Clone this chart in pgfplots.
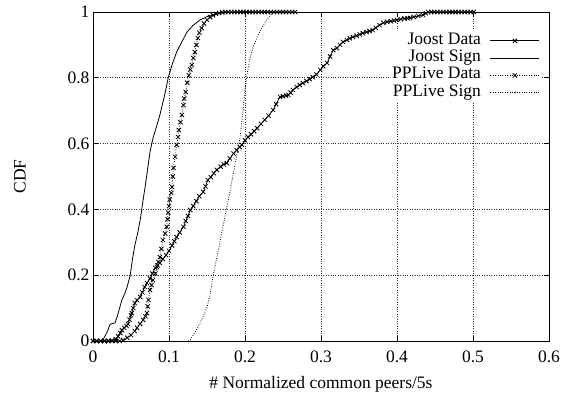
\documentclass[border=0pt]{standalone}
\usepackage{fontspec}
\setmainfont{Liberation Serif}
\usepackage{pgfplots}
\pgfplotsset{compat=1.18}
\newcommand{\bigfont}{\fontsize{17.5}{20}\selectfont}
\begin{document}
\begin{tikzpicture}
\begin{axis}[
  scale only axis,
  width=456pt, height=329pt,
  xmin=0, xmax=0.6, ymin=0, ymax=1,
  xtick={0,0.1,0.2,0.3,0.4,0.5,0.6},
  xticklabels={0,0.1,0.2,0.3,0.4,0.5,0.6},
  ytick={0,0.2,0.4,0.6,0.8,1},
  yticklabels={0,0.2,0.4,0.6,0.8,1},
  tick align=inside,
  major tick length=5pt,
  axis line style={line width=0.8pt},
  every tick/.style={black, line width=0.6pt},
  grid=major,
  major grid style={black!80, line width=0.6pt, dash pattern=on 0.8pt off 1.6pt},
  tick label style={font=\bigfont},
  xticklabel style={yshift=-6pt},
  label style={font=\bigfont},
  xlabel={\# Normalized common peers/5s},
  ylabel={CDF},
  xlabel style={yshift=-7pt},
  ylabel style={at={(axis description cs:-0.16,0.5)}, anchor=center},
  legend plot pos=right,
  legend cell align=right,
  legend image code/.code={\draw[mark repeat=2,mark phase=2,#1] plot coordinates {(0pt,0pt) (24.5pt,0pt) (49pt,0pt)};},
  legend style={font=\bigfont, draw=none, fill=white, at={(1,1)}, anchor=north east,
    xshift=-8pt, yshift=-19pt, inner sep=1pt, row sep=0pt, column sep=9pt,
    nodes={inner sep=0pt, text height=12pt, text depth=5.3pt}},
]
% Joost Data
\addplot[black, line width=0.7pt, mark=x, mark size=3pt, mark options={solid, line width=0.8pt}] coordinates {
(0,0) (0.005,0) (0.01,0) (0.015,0) (0.02,0) (0.025,0.002) (0.03,0.006) (0.033,0.014) (0.036,0.024) (0.038,0.033)
(0.041,0.04) (0.044,0.046) (0.046,0.052) (0.048,0.065) (0.05,0.078) (0.051,0.085) (0.053,0.1) (0.055,0.115)
(0.058,0.124) (0.062,0.134) (0.065,0.148) (0.068,0.164) (0.071,0.176) (0.075,0.19) (0.078,0.205) (0.082,0.222)
(0.085,0.23) (0.088,0.237) (0.092,0.249) (0.096,0.261) (0.1,0.274) (0.104,0.29) (0.107,0.303) (0.11,0.316)
(0.114,0.33) (0.119,0.347) (0.122,0.365) (0.125,0.38) (0.128,0.398) (0.132,0.41) (0.136,0.425) (0.14,0.44)
(0.145,0.453) (0.148,0.47) (0.151,0.489) (0.155,0.498) (0.159,0.51) (0.163,0.52) (0.168,0.53) (0.172,0.537)
(0.176,0.541) (0.18,0.555) (0.185,0.57) (0.189,0.58) (0.193,0.59) (0.196,0.596) (0.2,0.61) (0.204,0.62)
(0.208,0.628) (0.212,0.638) (0.216,0.647) (0.221,0.66) (0.226,0.672) (0.231,0.685) (0.237,0.702) (0.241,0.72)
(0.246,0.742) (0.25,0.744) (0.254,0.746) (0.257,0.748) (0.26,0.755) (0.263,0.763) (0.268,0.772) (0.272,0.778)
(0.276,0.784) (0.281,0.79) (0.285,0.796) (0.289,0.802) (0.294,0.81) (0.299,0.824) (0.303,0.835) (0.308,0.845)
(0.312,0.865) (0.316,0.884) (0.321,0.89) (0.325,0.9) (0.329,0.909) (0.334,0.915) (0.338,0.92) (0.342,0.924)
(0.347,0.928) (0.351,0.932) (0.355,0.936) (0.36,0.939) (0.364,0.942) (0.368,0.945) (0.372,0.952) (0.377,0.96)
(0.382,0.967) (0.387,0.97) (0.392,0.972) (0.396,0.974) (0.4,0.976) (0.405,0.978) (0.41,0.98) (0.414,0.981)
(0.417,0.982) (0.422,0.985) (0.428,0.988) (0.434,0.991) (0.438,0.996) (0.441,1) (0.445,1) (0.449,1) (0.453,1)
(0.457,1) (0.461,1) (0.465,1) (0.469,1) (0.473,1) (0.477,1) (0.481,1) (0.485,1) (0.489,1) (0.493,1) (0.497,1) (0.501,1)
};
\addlegendentry{Joost Data}
% Joost Sign
\addplot[black, line width=0.8pt] coordinates {
(0.01,0) (0.013,0.003) (0.017,0.02) (0.02,0.035) (0.022,0.049) (0.025,0.053) (0.029,0.055) (0.032,0.075)
(0.035,0.1) (0.038,0.125) (0.042,0.145) (0.045,0.165) (0.049,0.2) (0.052,0.25) (0.055,0.29) (0.059,0.33)
(0.063,0.38) (0.066,0.43) (0.069,0.475) (0.072,0.525) (0.075,0.574) (0.079,0.617) (0.084,0.655) (0.088,0.687)
(0.094,0.745) (0.099,0.8) (0.104,0.84) (0.11,0.878) (0.117,0.91) (0.124,0.94) (0.132,0.96) (0.141,0.976)
(0.154,0.99) (0.17,0.997) (0.19,1) (0.25,1)
};
\addlegendentry{Joost Sign}
% PPLive Data
\addplot[black, line width=0.7pt, dash pattern=on 0.8pt off 1.6pt, mark=x, mark size=3pt, mark options={solid, line width=0.8pt}] coordinates {
(0,0) (0.005,0) (0.01,0) (0.015,0) (0.02,0) (0.025,0) (0.03,0) (0.035,0) (0.04,0.003) (0.045,0.01) (0.05,0.018)
(0.055,0.03) (0.058,0.04) (0.062,0.052) (0.066,0.064) (0.069,0.075) (0.071,0.085) (0.072,0.105) (0.073,0.125)
(0.075,0.155) (0.077,0.17) (0.079,0.185) (0.082,0.205) (0.084,0.225) (0.086,0.24) (0.088,0.255) (0.09,0.28)
(0.092,0.307) (0.095,0.327) (0.097,0.347) (0.098,0.37) (0.099,0.39) (0.1,0.41) (0.101,0.43) (0.103,0.45)
(0.104,0.468) (0.105,0.5) (0.106,0.526) (0.108,0.56) (0.11,0.596) (0.112,0.62) (0.113,0.641) (0.115,0.665)
(0.117,0.687) (0.119,0.717) (0.12,0.737) (0.122,0.757) (0.124,0.785) (0.126,0.808) (0.128,0.825) (0.13,0.839)
(0.132,0.86) (0.134,0.878) (0.136,0.9) (0.138,0.921) (0.14,0.937) (0.143,0.951) (0.146,0.965) (0.15,0.976)
(0.154,0.984) (0.158,0.99) (0.162,0.994) (0.166,0.997) (0.17,0.999) (0.174,1) (0.178,1) (0.182,1) (0.186,1)
(0.19,1) (0.194,1) (0.198,1) (0.202,1) (0.206,1) (0.21,1) (0.214,1) (0.218,1) (0.222,1) (0.226,1) (0.23,1)
(0.234,1) (0.238,1) (0.242,1) (0.246,1) (0.25,1) (0.254,1) (0.258,1) (0.262,1) (0.266,1)
};
\addlegendentry{PPLive Data}
% PPLive Sign
\addplot[black, line width=0.8pt, dash pattern=on 0.8pt off 1.6pt] coordinates {
(0.125,0) (0.128,0.003) (0.135,0.03) (0.141,0.055) (0.146,0.08) (0.15,0.103) (0.154,0.14) (0.157,0.185)
(0.16,0.22) (0.163,0.255) (0.167,0.3) (0.17,0.337) (0.173,0.37) (0.176,0.407) (0.18,0.45) (0.183,0.489)
(0.188,0.55) (0.193,0.611) (0.197,0.69) (0.2,0.763) (0.203,0.815) (0.207,0.863) (0.211,0.895) (0.216,0.924)
(0.221,0.948) (0.226,0.967) (0.231,0.985) (0.237,0.997) (0.245,1) (0.27,1)
};
\addlegendentry{PPLive Sign}
\end{axis}
\draw[draw=none] ([xshift=-93pt,yshift=-55pt]current axis.south west) rectangle ([xshift=21pt,yshift=12pt]current axis.north east);
\end{tikzpicture}
\end{document}
